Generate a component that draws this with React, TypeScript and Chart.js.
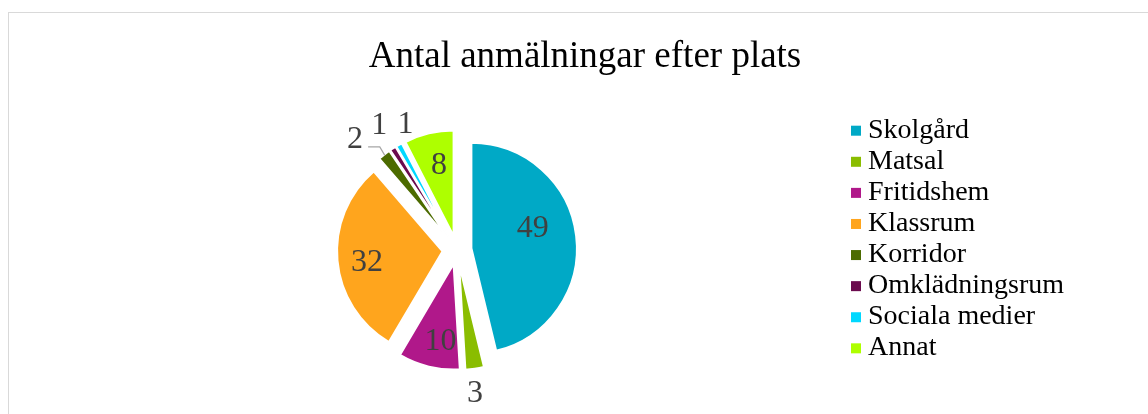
import React, { useEffect, useRef } from "react";
import { Chart, registerables } from "chart.js";

Chart.register(...registerables);

// ---- data ----
const chartTitle = "Antal anmälningar efter plats";
const categories = [
  "Skolgård",
  "Matsal",
  "Fritidshem",
  "Klassrum",
  "Korridor",
  "Omklädningsrum",
  "Sociala medier",
  "Annat",
];
const counts = [49, 3, 10, 32, 2, 1, 1, 8];
const sliceColors = [
  "#00A9C6",
  "#8ABD00",
  "#B0188A",
  "#FFA51D",
  "#4C6B00",
  "#6B0B4E",
  "#00D8FF",
  "#AEFF00",
];

// ---- style ----
const FONT = '"Liberation Serif", "Times New Roman", serif';
const EXPLODE = 14.5; // px each slice is pulled out
const labelRadiusFactor = [0.615, 1.244, 0.75, 0.73, 1.3, 1.266, 1.16, 0.69];
const labelAngleNudgeDeg = [-10.7, 1.5, -4, -3.1, -5.9, 0.3, 7.3, 1.9];
const leaderFor = [false, false, false, false, true, false, false, false];

const frameAndTitlePlugin = {
  id: "frameAndTitle",
  beforeDraw(chart: any) {
    const ctx = chart.ctx;
    ctx.save();
    ctx.fillStyle = "#ffffff";
    ctx.fillRect(0, 0, chart.width, chart.height);
    ctx.fillStyle = "#D9D9D9";
    ctx.fillRect(8, 12, 1, chart.height - 12);
    ctx.fillRect(8, 12, chart.width - 8, 1);
    ctx.fillStyle = "#000000";
    ctx.font = `37px ${FONT}`;
    ctx.textAlign = "center";
    ctx.textBaseline = "middle";
    ctx.fillText(chartTitle, 585, 57.2);
    ctx.restore();
  },
};

const explodePlugin = {
  id: "explodeSlices",
  beforeDatasetsDraw(chart: any) {
    const meta = chart.getDatasetMeta(0);
    meta.data.forEach((arc: any) => {
      if (arc.__exploded) return;
      const orig = arc.draw.bind(arc);
      arc.draw = (ctx: CanvasRenderingContext2D) => {
        const mid = (arc.startAngle + arc.endAngle) / 2;
        ctx.save();
        ctx.translate(Math.cos(mid) * EXPLODE, Math.sin(mid) * EXPLODE);
        orig(ctx);
        ctx.restore();
      };
      arc.__exploded = true;
    });
  },
};

const dataLabelPlugin = {
  id: "sliceLabels",
  afterDatasetsDraw(chart: any) {
    const ctx = chart.ctx;
    const meta = chart.getDatasetMeta(0);
    const values = chart.data.datasets[0].data as number[];
    ctx.save();
    ctx.font = `32px ${FONT}`;
    ctx.fillStyle = "#404040";
    ctx.textAlign = "center";
    ctx.textBaseline = "middle";
    meta.data.forEach((arc: any, i: number) => {
      const mid = (arc.startAngle + arc.endAngle) / 2;
      const vx = arc.x + Math.cos(mid) * EXPLODE;
      const vy = arc.y + Math.sin(mid) * EXPLODE;
      const R = arc.outerRadius - 1;
      const a = mid + (labelAngleNudgeDeg[i] * Math.PI) / 180;
      const r = R * labelRadiusFactor[i];
      const lx = vx + Math.cos(a) * r;
      const ly = vy + Math.sin(a) * r;
      ctx.fillText(String(values[i]), lx, ly);
      if (leaderFor[i]) {
        const ox = vx + Math.cos(mid) * R;
        const oy = vy + Math.sin(mid) * R;
        const ey = oy - 8.5;
        ctx.save();
        ctx.strokeStyle = "#A6A6A6";
        ctx.lineWidth = 1.2;
        ctx.beginPath();
        ctx.moveTo(lx + 13, ey);
        ctx.lineTo(ox - 5, ey);
        ctx.lineTo(ox, oy);
        ctx.stroke();
        ctx.restore();
      }
    });
    ctx.restore();
  },
};

const legendPlugin = {
  id: "sideLegend",
  afterDraw(chart: any) {
    const ctx = chart.ctx;
    const labels = chart.data.labels as string[];
    const colors = chart.data.datasets[0].backgroundColor as string[];
    const x0 = 851;
    const y0 = 130.7;
    const step = 31.09;
    ctx.save();
    ctx.font = `28px ${FONT}`;
    ctx.textAlign = "left";
    ctx.textBaseline = "middle";
    labels.forEach((lab, i) => {
      const y = y0 + i * step;
      ctx.fillStyle = colors[i];
      ctx.fillRect(x0, y - 5, 10, 10);
      ctx.fillStyle = "#000000";
      ctx.fillText(lab, 868, y - 0.5);
    });
    ctx.restore();
  },
};

export default function App() {
  const canvasRef = useRef<HTMLCanvasElement | null>(null);

  useEffect(() => {
    if (!canvasRef.current) return;
    const chart = new Chart(canvasRef.current, {
      type: "pie",
      data: {
        labels: categories,
        datasets: [
          {
            data: counts,
            backgroundColor: sliceColors,
            borderColor: "#ffffff",
            borderWidth: 2,
            hoverOffset: 0,
            radius: 105.5,
          } as any,
        ],
      },
      options: {
        responsive: false,
        animation: false,
        events: [],
        radius: 105.5,
        layout: { padding: { left: 100, right: 334, top: 96, bottom: 10 } },
        plugins: {
          legend: { display: false },
          title: { display: false },
          tooltip: { enabled: false },
        },
      } as any,
      plugins: [frameAndTitlePlugin, explodePlugin, dataLabelPlugin, legendPlugin],
    });
    return () => chart.destroy();
  }, []);

  return (
    <div
      style={{
        position: "fixed",
        left: 0,
        top: 0,
        width: 1148,
        height: 414,
        background: "#ffffff",
      }}
    >
      <canvas ref={canvasRef} width={1148} height={414} style={{ display: "block" }} />
    </div>
  );
}
